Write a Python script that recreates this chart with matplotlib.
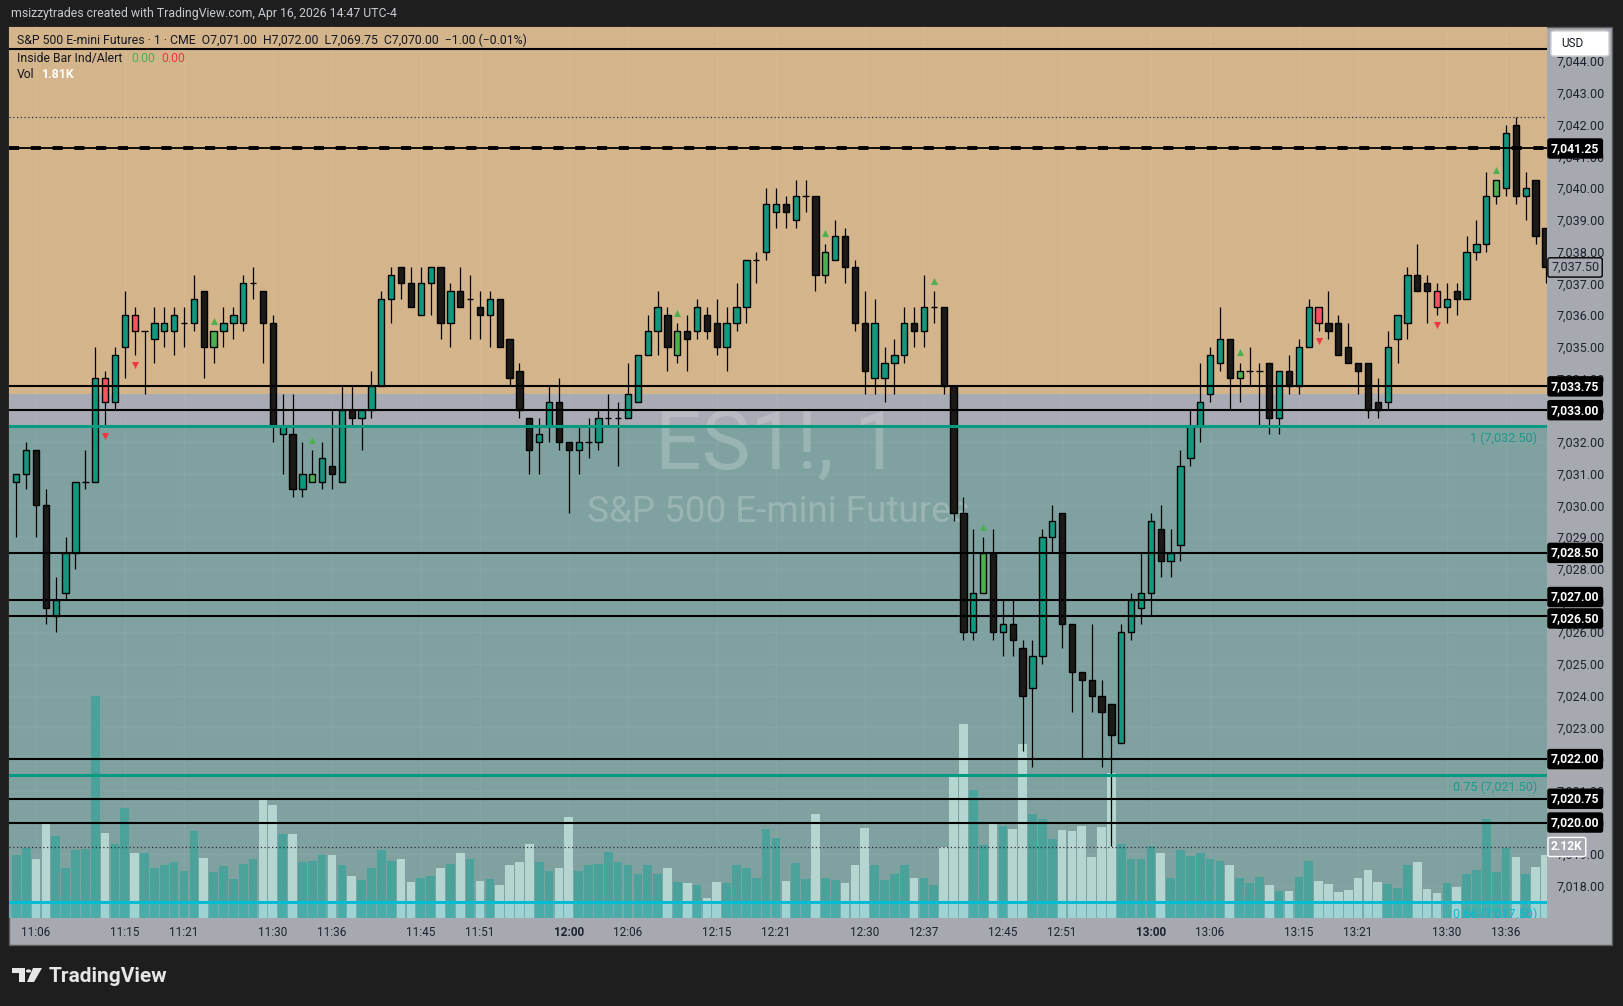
import matplotlib.pyplot as plt
import numpy as np
from matplotlib.patches import Rectangle, Polygon, Circle, FancyBboxPatch
from matplotlib.transforms import blended_transform_factory
from matplotlib.ticker import FuncFormatter

plt.rcParams['font.family'] = ['Roboto', 'DejaVu Sans']

# ---- data (ES1! 1 minute, 11:04 .. 13:40, 12:36 missing) ----
opens = [7030.75, 7031.0, 7031.75, 7030.0, 7026.5, 7027.25, 7028.5, 7030.75, 7030.75, 7034.0,
         7033.25, 7035.0, 7036.0, 7035.5, 7035.25, 7035.5, 7035.5, 7035.75, 7035.75, 7036.75,
         7035.0, 7035.5, 7035.75, 7035.75, 7037.0, 7036.75, 7035.75, 7032.25, 7032.25, 7030.5,
         7030.75, 7030.75, 7031.25, 7030.75, 7033.0, 7032.75, 7033.0, 7033.75, 7036.5, 7037.5,
         7037.0, 7036.0, 7037.0, 7037.5, 7035.75, 7036.75, 7036.5, 7036.25, 7036.0, 7036.5,
         7035.25, 7034.25, 7032.75, 7032.0, 7032.5, 7033.25, 7032.0, 7031.75, 7032.0, 7032.0,
         7032.75, 7032.75, 7032.75, 7033.25, 7034.75, 7035.5, 7036.0, 7034.75, 7035.5, 7035.5,
         7036.0, 7035.75, 7035.0, 7035.75, 7036.25, 7037.75, 7038.0, 7039.25, 7039.5, 7039.0,
         7039.75, 7039.75, 7037.25, 7037.75, 7038.5, 7037.5, 7035.75, 7034.0, 7034.0, 7034.5,
         7034.75, 7035.75, 7035.5, 7036.25, 7036.25, 7033.75, 7029.75, 7026.0, 7027.25, 7028.5,
         7026.0, 7026.25, 7025.5, 7024.25, 7025.25, 7029.0, 7029.75, 7026.25, 7024.75, 7024.5,
         7024.0, 7023.75, 7022.5, 7026.0, 7026.75, 7027.25, 7029.25, 7028.25, 7028.75, 7031.5,
         7032.5, 7033.5, 7034.5, 7035.25, 7034.0, 7034.25, 7034.25, 7034.5, 7032.75, 7034.25,
         7033.75, 7035.0, 7036.25, 7035.75, 7035.75, 7035.0, 7034.5, 7034.5, 7033.25, 7033.25,
         7035.25, 7035.75, 7037.25, 7037.0, 7036.75, 7036.25, 7036.75, 7036.5, 7038.0, 7038.25,
         7039.75, 7040.0, 7042.0, 7039.75, 7040.25, 7038.75]
highs = [7031.0, 7032.0, 7031.75, 7030.5, 7027.75, 7029.0, 7030.75, 7031.75, 7035.0, 7034.25,
         7035.0, 7036.75, 7036.25, 7035.5, 7036.25, 7036.25, 7036.25, 7036.25, 7037.25, 7036.75,
         7035.5, 7036.25, 7036.25, 7037.25, 7037.5, 7036.75, 7036.0, 7033.5, 7033.5, 7032.0,
         7031.75, 7032.0, 7033.0, 7033.75, 7033.75, 7033.0, 7034.25, 7036.75, 7037.5, 7037.5,
         7037.5, 7037.5, 7037.5, 7037.5, 7037.0, 7037.5, 7037.25, 7036.75, 7036.75, 7036.5,
         7035.25, 7034.5, 7032.75, 7032.75, 7033.75, 7034.0, 7032.0, 7032.5, 7032.75, 7033.0,
         7033.5, 7033.25, 7034.5, 7034.75, 7036.0, 7036.75, 7036.25, 7035.75, 7036.0, 7036.5,
         7036.25, 7036.5, 7036.25, 7037.0, 7037.75, 7038.0, 7040.0, 7040.0, 7039.75, 7040.25,
         7040.25, 7039.75, 7038.25, 7039.0, 7038.75, 7037.75, 7036.75, 7036.5, 7035.0, 7035.25,
         7036.25, 7036.25, 7037.25, 7036.75, 7036.25, 7033.75, 7030.25, 7029.25, 7029.0, 7029.25,
         7027.0, 7027.0, 7025.75, 7025.75, 7029.25, 7030.0, 7029.75, 7026.25, 7024.75, 7026.25,
         7024.5, 7023.75, 7026.25, 7027.25, 7028.5, 7029.75, 7030.0, 7029.25, 7031.75, 7033.0,
         7034.5, 7035.0, 7036.25, 7035.25, 7034.5, 7035.0, 7034.5, 7034.5, 7034.25, 7034.75,
         7035.25, 7036.5, 7036.25, 7036.75, 7036.0, 7035.75, 7034.5, 7034.5, 7034.0, 7035.5,
         7036.0, 7037.5, 7038.25, 7037.25, 7037.0, 7037.0, 7037.0, 7038.5, 7039.0, 7040.5,
         7040.25, 7042.0, 7042.25, 7040.5, 7040.25, 7038.75]
lows = [7029.0, 7030.5, 7029.0, 7026.25, 7026.0, 7027.0, 7028.0, 7030.5, 7030.75, 7032.5,
        7033.0, 7034.0, 7034.75, 7033.5, 7034.5, 7035.0, 7034.75, 7035.0, 7035.5, 7034.0,
        7034.5, 7035.0, 7035.25, 7035.5, 7036.5, 7034.5, 7032.0, 7031.0, 7030.25, 7030.25,
        7030.75, 7030.5, 7030.5, 7030.75, 7032.5, 7031.75, 7032.75, 7033.75, 7035.75, 7036.5,
        7036.25, 7036.0, 7036.0, 7035.25, 7035.0, 7036.25, 7035.25, 7035.25, 7035.0, 7035.0,
        7033.75, 7032.75, 7031.0, 7031.0, 7032.0, 7031.75, 7029.75, 7031.0, 7031.5, 7031.75,
        7032.5, 7031.25, 7032.75, 7033.25, 7034.75, 7034.75, 7034.25, 7034.5, 7034.25, 7035.25,
        7035.25, 7034.75, 7034.25, 7035.5, 7035.75, 7037.0, 7037.75, 7038.75, 7038.75, 7038.75,
        7039.25, 7036.75, 7037.0, 7037.75, 7037.0, 7035.5, 7033.5, 7033.5, 7033.25, 7033.5,
        7034.5, 7035.0, 7035.0, 7035.75, 7033.5, 7029.5, 7025.75, 7025.75, 7027.25, 7025.75,
        7025.25, 7025.25, 7022.25, 7021.75, 7025.0, 7028.5, 7025.5, 7023.5, 7022.0, 7023.5,
        7021.75, 7019.25, 7022.5, 7025.75, 7026.25, 7026.5, 7027.75, 7027.75, 7028.25, 7031.25,
        7032.0, 7033.25, 7034.25, 7033.0, 7033.25, 7033.75, 7032.5, 7032.25, 7032.25, 7033.5,
        7033.5, 7035.0, 7035.5, 7035.25, 7034.75, 7034.5, 7033.5, 7032.75, 7032.75, 7033.0,
        7034.5, 7035.25, 7036.75, 7035.75, 7036.0, 7035.75, 7036.0, 7036.5, 7037.75, 7038.0,
        7039.5, 7039.75, 7039.5, 7039.0, 7038.25, 7037.0]
closes = [7031.0, 7031.75, 7030.0, 7026.75, 7027.0, 7028.5, 7030.75, 7030.75, 7034.0, 7033.25,
          7034.75, 7036.0, 7035.5, 7035.5, 7035.75, 7035.75, 7036.0, 7035.75, 7036.5, 7035.0,
          7035.5, 7035.75, 7036.0, 7037.0, 7037.0, 7035.75, 7032.5, 7032.5, 7030.5, 7031.0,
          7031.0, 7031.5, 7031.0, 7033.0, 7032.75, 7033.0, 7033.75, 7036.5, 7037.25, 7037.0,
          7036.25, 7037.0, 7037.5, 7035.75, 7036.75, 7036.25, 7036.5, 7036.0, 7036.5, 7035.0,
          7034.0, 7033.0, 7031.75, 7032.25, 7033.25, 7032.0, 7031.75, 7032.0, 7032.0, 7032.75,
          7032.75, 7032.75, 7033.5, 7034.75, 7035.5, 7036.25, 7035.0, 7035.5, 7035.25, 7036.25,
          7035.5, 7035.0, 7035.75, 7036.25, 7037.75, 7037.75, 7039.5, 7039.5, 7039.25, 7039.75,
          7039.75, 7037.25, 7038.0, 7038.5, 7037.5, 7035.75, 7034.25, 7035.75, 7034.5, 7034.75,
          7035.75, 7035.5, 7036.25, 7036.25, 7033.75, 7029.75, 7026.0, 7027.25, 7028.5, 7026.0,
          7026.25, 7025.75, 7024.0, 7025.25, 7029.0, 7029.5, 7026.25, 7024.75, 7024.5, 7024.0,
          7023.5, 7022.75, 7026.0, 7027.0, 7027.25, 7029.5, 7028.25, 7028.5, 7031.25, 7032.5,
          7033.25, 7034.75, 7035.25, 7034.0, 7034.25, 7034.25, 7034.25, 7032.75, 7034.25, 7033.75,
          7035.0, 7036.25, 7035.75, 7035.5, 7034.75, 7034.5, 7034.25, 7033.0, 7033.0, 7035.0,
          7036.0, 7037.25, 7036.75, 7036.75, 7036.25, 7036.5, 7036.5, 7038.0, 7038.25, 7039.75,
          7040.25, 7041.75, 7039.75, 7040.0, 7038.5, 7037.5]
volumes_k = [1.89, 2.08, 1.75, 2.83, 2.44, 1.50, 2.02, 2.06, 6.62, 2.54,
             2.22, 3.29, 1.95, 1.93, 1.50, 1.59, 1.67, 1.41, 2.60, 1.80,
             1.36, 1.54, 1.16, 1.62, 1.75, 3.52, 3.38, 2.51, 2.51, 1.66,
             1.71, 1.89, 1.89, 1.59, 1.26, 1.12, 1.48, 2.03, 1.71, 1.77,
             1.07, 1.18, 1.25, 1.50, 1.62, 1.95, 1.75, 1.09, 1.16, 1.00,
             1.59, 1.66, 2.22, 1.68, 1.39, 1.50, 3.02, 1.41, 1.57, 1.62,
             1.98, 1.68, 1.59, 1.30, 1.59, 1.30, 1.48, 1.07, 1.03, 0.98,
             0.59, 1.07, 1.03, 1.57, 1.50, 1.18, 2.66, 2.40, 1.10, 1.63,
             1.16, 3.11, 1.19, 1.13, 1.05, 1.57, 2.70, 1.57, 1.13, 1.30,
             1.57, 1.19, 1.19, 0.99, 2.12, 4.28, 5.80, 3.82, 2.19, 2.88,
             2.76, 2.67, 5.20, 3.11, 2.97, 2.37, 2.64, 2.61, 2.76, 1.81,
             2.73, 4.34, 2.22, 1.75, 1.75, 2.16, 1.93, 1.19, 2.02, 1.85,
             1.93, 1.75, 1.69, 1.57, 1.19, 1.04, 1.22, 0.98, 0.82, 0.80,
             1.21, 1.71, 1.10, 1.01, 0.77, 0.85, 1.18, 1.44, 1.07, 1.01,
             0.91, 1.57, 1.68, 0.88, 0.74, 1.04, 0.94, 1.30, 1.44, 2.97,
             1.38, 2.10, 1.81, 1.30, 1.51, 1.87]

inside_up = [20, 30, 67, 82, 93, 98, 124, 150]      # green triangle above
inside_down = [9, 12, 132, 144]                      # red triangle below

time_labels = ["11:06", "11:15", "11:21", "11:30", "11:36", "11:45", "11:51", "12:00",
               "12:06", "12:15", "12:21", "12:30", "12:37", "12:45", "12:51", "13:00",
               "13:06", "13:15", "13:21", "13:30", "13:36"]
time_label_bar = [2, 11, 17, 26, 32, 41, 47, 56, 62, 71, 77, 86, 92, 100, 106, 115,
                  121, 130, 136, 145, 151]

black_levels = [7044.375, 7033.75, 7033.0, 7028.5, 7027.0, 7026.5, 7022.0, 7020.75, 7020.0]
labelled_levels = [7041.25, 7033.75, 7033.0, 7028.5, 7027.0, 7026.5, 7022.0, 7020.75, 7020.0]
dashed_level = 7041.25
fib_levels = [7032.5, 7021.5]
fib_texts = ["1 (7,032.50)", "0.75 (7,021.50)"]
fib_cyan = 7017.5
session_high = 7042.25
last_price = 7037.5
vol_marker = 2.12
zone_top = 7033.5          # tan zone down to here
zone_mid = 7032.5          # grey band down to here

# ---- figure ----
W, H = 1623, 1006
fig = plt.figure(figsize=(W / 100, H / 100), dpi=100, facecolor='#1e1e1e')


def fx(x):
    return x / W


def fy(y):
    return 1 - y / H


fig.patches.append(Rectangle((fx(9), fy(945)), fx(1612 - 9), (945 - 27) / H,
                             transform=fig.transFigure, facecolor='#a6a9b0',
                             edgecolor='#5a5a5a', lw=1, zorder=0))

rect = [fx(9), fy(918), (1547 - 9) / W, (918 - 27) / H]
ax_bg = fig.add_axes(rect, zorder=1)
ax_vol = fig.add_axes(rect, zorder=2, sharex=ax_bg)
ax = fig.add_axes(rect, zorder=3, sharex=ax_bg, sharey=ax_bg)

n = len(opens)
x = np.arange(n)
o = np.array(opens)
c = np.array(closes)
hi = np.array(highs)
lo = np.array(lows)
vol = np.array(volumes_k)
up = c >= o

ax_bg.set_xlim(-0.74, 155.15)
ax_bg.set_ylim(7016.99, 7045.08)
ax_vol.set_ylim(0, 26.6)

for a in (ax_bg, ax_vol, ax):
    for s in a.spines.values():
        s.set_visible(False)
ax_vol.patch.set_visible(False)
ax.patch.set_visible(False)
ax_bg.tick_params(left=False, bottom=False, labelleft=False, labelbottom=False)
ax_vol.tick_params(left=False, bottom=False, labelleft=False, labelbottom=False)

# background zones
ax_bg.axhspan(zone_top, 7046, color='#d4b58b', lw=0)
ax_bg.axhspan(zone_mid, zone_top, color='#a8abb4', lw=0)
ax_bg.axhspan(7016, zone_mid, color='#7fa2a1', lw=0)
for t in time_label_bar:
    ax_bg.axvline(t, color='white', alpha=0.05, lw=1)
for p in range(7018, 7045):
    ax_bg.axhline(p, color='white', alpha=0.04, lw=1)

# watermark
ax_bg.text(0.5, 0.529, "ES1!, 1", transform=ax_bg.transAxes, ha='center', va='center',
           fontsize=59, color='white', alpha=0.2)
ax_bg.text(0.5, 0.456, "S&P 500 E-mini Futures", transform=ax_bg.transAxes, ha='center',
           va='center', fontsize=26.5, color='white', alpha=0.2)

# volume
vol_colors = np.where(up, '#4aa29a', '#b5d5d1')
ax_vol.bar(x, vol, width=0.88, color=vol_colors, lw=0)
ax_vol.axhline(vol_marker, color='#2a2e39', lw=0.9, ls=(0, (1, 2)))

# candles
body_colors = np.where(up, '#13977f', '#1c1a17').astype(object)
for i in inside_up + inside_down:
    if c[i] > o[i]:
        body_colors[i] = '#4caf50'
    elif c[i] < o[i]:
        body_colors[i] = '#f7525f'
ax.vlines(x, lo, hi, color='black', lw=0.9, zorder=3)
body_h = np.abs(c - o)
ax.bar(x, body_h, bottom=np.minimum(o, c), width=0.64, color=list(body_colors),
       edgecolor='black', lw=1.0, zorder=4)
ax.scatter(x[inside_up], hi[inside_up] + 0.32, marker='^', s=26, color='#4caf50', lw=0, zorder=5)
ax.scatter(x[inside_down], lo[inside_down] - 0.32, marker='v', s=26, color='#f23645', lw=0, zorder=5)

# levels
for lv in black_levels:
    ax.axhline(lv, color='black', lw=1.5, zorder=6)
ax.axhline(dashed_level, color='black', lw=1.3, zorder=6)
ax.axhline(dashed_level, color='black', lw=2.8, ls=(0, (2.6, 3.0)), zorder=6)
for lv in fib_levels:
    ax.axhline(lv, color='#089981', lw=2.2, zorder=6)
ax.axhline(fib_cyan, color='#00bcd4', lw=2.2, zorder=6)
ax.axhspan(7016, fib_cyan, color='#4dd0e1', alpha=0.22, lw=0, zorder=2)
ax.axhline(session_high, color='#2a2e39', lw=0.9, ls=(0, (1, 2)), zorder=6)

bl = blended_transform_factory(ax.transAxes, ax.transData)
for lv, txt in zip(fib_levels, fib_texts):
    ax.annotate(txt, xy=(0.9935, lv), xycoords=bl, xytext=(0, -4), textcoords='offset points',
                ha='right', va='top', fontsize=9, color='#1a9b88', zorder=7)
ax.annotate("0.66 (7,017.50)", xy=(0.9935, fib_cyan), xycoords=bl, xytext=(0, -4),
            textcoords='offset points', ha='right', va='top', fontsize=9, color='#00bcd4',
            zorder=7, annotation_clip=False, clip_on=True)

# price scale
ax.yaxis.tick_right()
ax.set_yticks(np.arange(7018, 7045))
ax.yaxis.set_major_formatter(FuncFormatter(lambda v, p: f"{v:,.2f}"))
ax.tick_params(axis='y', length=0, pad=6.5, labelsize=9, labelcolor='#1e222d')
ax.set_xticks(time_label_bar)
ax.set_xticklabels(time_labels)
ax.tick_params(axis='x', length=0, pad=6, labelsize=8.5, labelcolor='#1e222d')
for lab in ax.get_xticklabels():
    if lab.get_text() in ("12:00", "13:00"):
        lab.set_fontweight('bold')

# price-scale labels of the drawn levels (TradingView nudges close ones apart)
nudge = {7027.0: 2.5, 7026.5: -1.5}
tr_lab = blended_transform_factory(fig.transFigure, ax.transData)
for lv in labelled_levels:
    ax.annotate(f"{lv:,.2f}", xy=(fx(1551), lv), xycoords=tr_lab,
                xytext=(0, nudge.get(lv, 0)), textcoords='offset points',
                ha='left', va='center', fontsize=8.7, fontweight='bold', color='white',
                zorder=8, annotation_clip=False,
                bbox=dict(boxstyle='round,pad=0.25,rounding_size=0.15', fc='black', ec='black'))
ax.text(fx(1551), last_price, f"{last_price:,.2f}", transform=tr_lab, ha='left', va='center',
        fontsize=9, color='#1e222d', zorder=8,
        bbox=dict(boxstyle='round,pad=0.25,rounding_size=0.15', fc='#a6a9b0', ec='black', lw=1))
tr_vol = blended_transform_factory(fig.transFigure, ax_vol.transData)
ax.text(fx(1551), vol_marker, f"{vol_marker:.2f}K",
        transform=tr_vol, ha='left', va='center', fontsize=8.7, fontweight='bold', color='white',
        zorder=8, bbox=dict(boxstyle='round,pad=0.25,rounding_size=0.15', fc='#a6a9b0',
                            ec='white', lw=1))

# USD button
fig.patches.append(FancyBboxPatch((fx(1551), fy(56)), fx(58), 25 / H,
                                  boxstyle='round,pad=0,rounding_size=0.002',
                                  transform=fig.transFigure, fc='white', ec='#d0d0d0',
                                  lw=1, zorder=10))
fig.text(fx(1561), fy(43.5), "USD", fontsize=8.5, color='#131722', va='center', zorder=11)

# header and legend
fs = 8.8
fig.text(fx(11), fy(14), "msizzytrades created with TradingView.com, Apr 16, 2026 14:47 UTC-4",
         fontsize=fs, color='#c8cbd2', va='center')
fig.text(fx(17), fy(40.5), "S&P 500 E-mini Futures \u00b7 1 \u00b7 CME  O7,071.00  H7,072.00  "
         "L7,069.75  C7,070.00  \u22121.00 (\u22120.01%)", fontsize=fs, color='#131722',
         va='center', zorder=12)
fig.text(fx(17), fy(58.5), "Inside Bar Ind/Alert", fontsize=fs, color='#131722', va='center',
         zorder=12)
fig.text(fx(131), fy(58.5), "0.00", fontsize=fs, color='#4caf50', va='center', zorder=12)
fig.text(fx(161), fy(58.5), "0.00", fontsize=fs, color='#f23645', va='center', zorder=12)
fig.text(fx(17), fy(75), "Vol", fontsize=fs, color='#131722', va='center', zorder=12)
fig.text(fx(42), fy(75), "1.81K", fontsize=fs, color='white', fontweight='bold',
         va='center', zorder=12)

# TradingView logo
logo = '#e6e6e6'
fig.patches.append(Polygon([(fx(12), fy(968)), (fx(25), fy(968)), (fx(25), fy(982)),
                            (fx(19), fy(982)), (fx(19), fy(973)), (fx(12), fy(973))],
                           closed=True, transform=fig.transFigure, fc=logo, ec='none'))
fig.patches.append(Circle((fx(28.5), fy(971)), 2.6 / W, transform=fig.transFigure,
                          fc=logo, ec='none'))
fig.patches.append(Polygon([(fx(33), fy(968)), (fx(42), fy(968)), (fx(34), fy(982)),
                            (fx(27), fy(982))], closed=True, transform=fig.transFigure,
                           fc=logo, ec='none'))
fig.text(fx(49), fy(976), "TradingView", fontsize=15, fontweight='bold', color=logo,
         va='center')

fig.savefig('out.png', dpi=100, facecolor=fig.get_facecolor())
